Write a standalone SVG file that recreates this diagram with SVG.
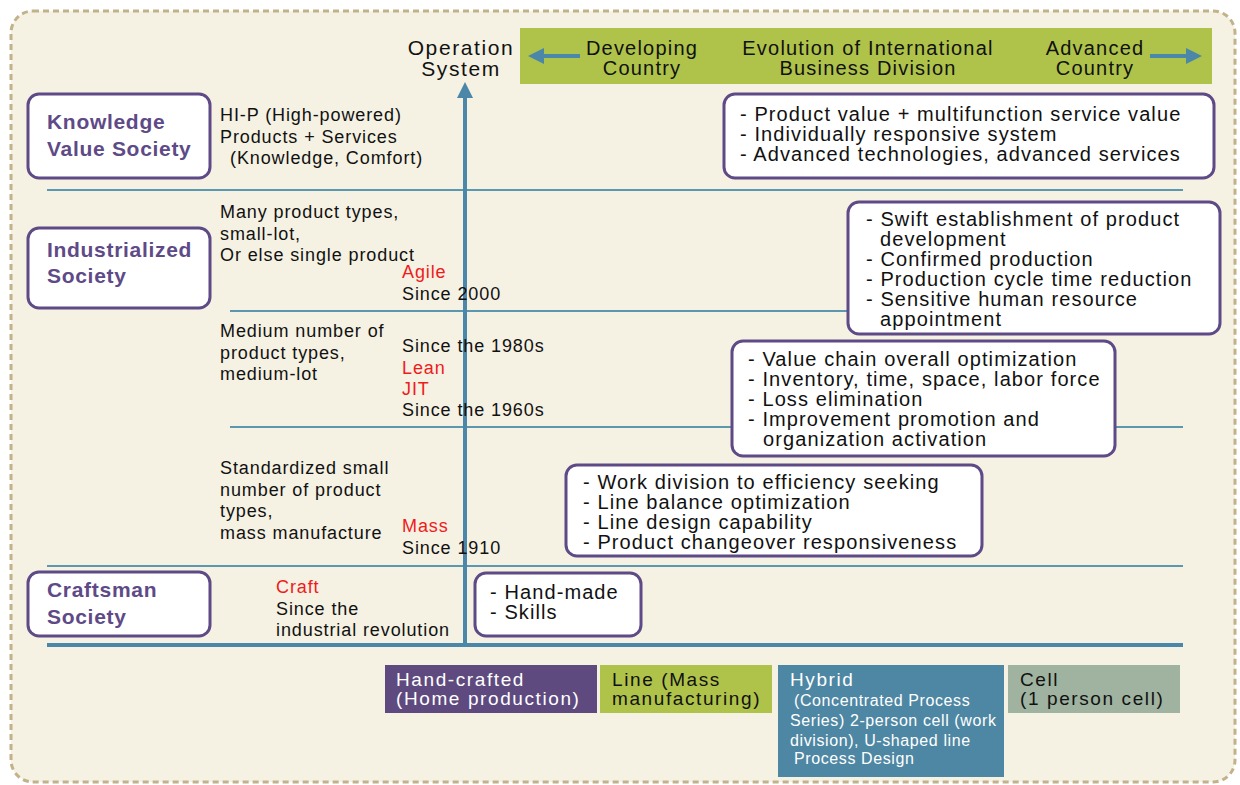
<svg xmlns="http://www.w3.org/2000/svg" width="1240" height="785" viewBox="0 0 1240 785">
<defs>
<style>
text{font-family:"Liberation Sans",Arial,sans-serif;}
.t{font-size:18px;letter-spacing:0.9px;fill:#111;}
.r{font-size:18px;letter-spacing:0.9px;fill:#ee1c1c;}
.soc{font-size:21px;letter-spacing:0.7px;font-weight:bold;fill:#5e4a86;}
.bx{fill:#fff;stroke:#5e4a86;stroke-width:3;}
.bt{font-size:20px;letter-spacing:1.1px;fill:#111;}
.hl{stroke:#5b97ae;stroke-width:2;fill:none;}
.hd{font-size:20px;letter-spacing:1.2px;fill:#111;}
.op{font-size:21px;letter-spacing:1.6px;fill:#111;}
.bw{font-size:19px;letter-spacing:1.6px;fill:#fff;}
.bb{font-size:19px;letter-spacing:1.6px;fill:#111;}
.sw{font-size:16px;letter-spacing:0.6px;fill:#fff;}
</style>
<marker id="ah" viewBox="0 0 10 10" refX="5" refY="5" markerWidth="4" markerHeight="4" orient="auto"><path d="M0,0 L10,5 L0,10 z" fill="#4a87a8"/></marker>
</defs>
<rect x="11" y="11" width="1224" height="771" rx="22" fill="#f5f1e3" stroke="#c2b28a" stroke-width="3" stroke-dasharray="6,4"/>

<g id="banner">
<rect x="520" y="28" width="692" height="56" fill="#afc34a"/>
<text class="hd" x="642" y="55" text-anchor="middle">Developing</text>
<text class="hd" x="642" y="75" text-anchor="middle">Country</text>
<text class="hd" x="868" y="55" text-anchor="middle">Evolution of International</text>
<text class="hd" x="868" y="75" text-anchor="middle">Business Division</text>
<text class="hd" x="1095" y="55" text-anchor="middle">Advanced</text>
<text class="hd" x="1095" y="75" text-anchor="middle">Country</text>
</g>
<g id="axis-label">
<text class="op" x="461" y="55" text-anchor="middle">Operation</text>
<text class="op" x="461" y="76" text-anchor="middle">System</text>
</g>

<g id="connectors">
<line x1="580" y1="56" x2="536" y2="56" stroke="#4a87a8" stroke-width="4" marker-end="url(#ah)"/>
<line x1="1150" y1="56" x2="1194" y2="56" stroke="#4a87a8" stroke-width="4" marker-end="url(#ah)"/>
<line class="hl" x1="47" y1="190" x2="1183" y2="190"/>
<line class="hl" x1="230" y1="311" x2="1183" y2="311"/>
<line class="hl" x1="230" y1="427" x2="1183" y2="427"/>
<line class="hl" x1="47" y1="566" x2="1183" y2="566"/>
<line x1="47" y1="645" x2="1183" y2="645" stroke="#4a87a8" stroke-width="4"/>
<line x1="465" y1="645" x2="465" y2="90" stroke="#4a87a8" stroke-width="4" marker-end="url(#ah)"/>
</g>

<g id="knowledge">
<rect class="bx" x="28" y="94" width="182" height="84" rx="11"/>
<text class="soc" x="47" y="129">Knowledge</text>
<text class="soc" x="47" y="156">Value Society</text>
</g>
<g id="industrialized">
<rect class="bx" x="28" y="228" width="182" height="80" rx="11"/>
<text class="soc" x="47" y="257">Industrialized</text>
<text class="soc" x="47" y="283">Society</text>
</g>
<g id="craftsman">
<rect class="bx" x="28" y="572" width="182" height="64" rx="11"/>
<text class="soc" x="47" y="597">Craftsman</text>
<text class="soc" x="47" y="624">Society</text>
</g>

<g id="mid-texts">
<text class="t" x="220" y="121">HI-P (High-powered)</text>
<text class="t" x="220" y="143">Products + Services</text>
<text class="t" x="230" y="164">(Knowledge, Comfort)</text>
<text class="t" x="220" y="218">Many product types,</text>
<text class="t" x="220" y="240">small-lot,</text>
<text class="t" x="220" y="261">Or else single product</text>
<text class="r" x="402" y="278">Agile</text>
<text class="t" x="402" y="300">Since 2000</text>
<text class="t" x="220" y="337">Medium number of</text>
<text class="t" x="220" y="359">product types,</text>
<text class="t" x="220" y="380">medium-lot</text>
<text class="t" x="402" y="352">Since the 1980s</text>
<text class="r" x="402" y="374">Lean</text>
<text class="r" x="402" y="395">JIT</text>
<text class="t" x="402" y="416">Since the 1960s</text>
<text class="t" x="220" y="474">Standardized small</text>
<text class="t" x="220" y="496">number of product</text>
<text class="t" x="220" y="517">types,</text>
<text class="t" x="220" y="539">mass manufacture</text>
<text class="r" x="402" y="532">Mass</text>
<text class="t" x="402" y="554">Since 1910</text>
<text class="r" x="276" y="593">Craft</text>
<text class="t" x="276" y="615">Since the</text>
<text class="t" x="276" y="636">industrial revolution</text>
</g>

<g id="box-knowledge">
<rect class="bx" x="724" y="94" width="490" height="84" rx="11"/>
<text class="bt" x="740" y="121">- Product value + multifunction service value</text>
<text class="bt" x="740" y="141">- Individually responsive system</text>
<text class="bt" x="740" y="161">- Advanced technologies, advanced services</text>
</g>
<g id="box-agile">
<rect class="bx" x="848" y="202" width="372" height="132" rx="11"/>
<text class="bt" x="866" y="226">- Swift establishment of product</text>
<text class="bt" x="880" y="246">development</text>
<text class="bt" x="866" y="266">- Confirmed production</text>
<text class="bt" x="866" y="286">- Production cycle time reduction</text>
<text class="bt" x="866" y="306">- Sensitive human resource</text>
<text class="bt" x="880" y="326">appointment</text>
</g>
<g id="box-lean">
<rect class="bx" x="732" y="341" width="383" height="115" rx="11"/>
<text class="bt" x="748" y="366">- Value chain overall optimization</text>
<text class="bt" x="748" y="386">- Inventory, time, space, labor force</text>
<text class="bt" x="748" y="406">- Loss elimination</text>
<text class="bt" x="748" y="426">- Improvement promotion and</text>
<text class="bt" x="763" y="446">organization activation</text>
</g>
<g id="box-mass">
<rect class="bx" x="566" y="465" width="416" height="91" rx="11"/>
<text class="bt" x="583" y="489">- Work division to efficiency seeking</text>
<text class="bt" x="583" y="509">- Line balance optimization</text>
<text class="bt" x="583" y="529">- Line design capability</text>
<text class="bt" x="583" y="549">- Product changeover responsiveness</text>
</g>
<g id="box-craft">
<rect class="bx" x="475" y="573" width="166" height="63" rx="11"/>
<text class="bt" x="490" y="599">- Hand-made</text>
<text class="bt" x="490" y="619">- Skills</text>
</g>

<g id="hand-crafted">
<rect x="385" y="665" width="212" height="48" fill="#5e4a7e"/>
<text class="bw" x="396" y="686">Hand-crafted</text>
<text class="bw" x="396" y="705">(Home production)</text>
</g>
<g id="line-mass">
<rect x="600" y="665" width="172" height="48" fill="#afc34a"/>
<text class="bb" x="612" y="686">Line (Mass</text>
<text class="bb" x="612" y="705">manufacturing)</text>
</g>
<g id="hybrid">
<rect x="778" y="665" width="226" height="112" fill="#4e87a3"/>
<text class="bw" x="790" y="686">Hybrid</text>
<text class="sw" x="794" y="706">(Concentrated Process</text>
<text class="sw" x="790" y="726">Series) 2-person cell (work</text>
<text class="sw" x="790" y="746">division), U-shaped line</text>
<text class="sw" x="794" y="764">Process Design</text>
</g>
<g id="cell">
<rect x="1008" y="665" width="172" height="48" fill="#9fb3a0"/>
<text class="bb" x="1020" y="686">Cell</text>
<text class="bb" x="1020" y="705">(1 person cell)</text>
</g>
</svg>
